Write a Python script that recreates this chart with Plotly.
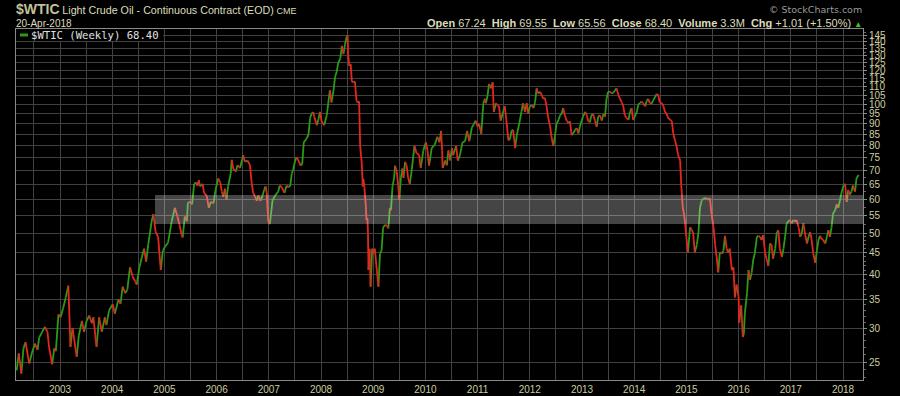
import plotly.graph_objects as go

# ---- data (decimal year, weekly close) ----
years = [
2002.17,2002.21,2002.26,2002.30,2002.34,2002.41,2002.46,2002.52,2002.57,2002.60,2002.66,2002.71,2002.76,2002.79,2002.85,2002.89,2002.92,2002.97,
2003.01,2003.06,2003.11,2003.16,2003.20,2003.24,2003.27,2003.32,2003.36,2003.42,2003.46,2003.51,2003.56,2003.61,2003.64,2003.70,2003.75,2003.80,2003.86,2003.89,2003.94,
2004.01,2004.05,2004.12,2004.16,2004.20,2004.25,2004.29,2004.34,2004.39,2004.44,2004.47,2004.52,2004.57,2004.61,2004.65,2004.69,2004.76,2004.79,2004.83,2004.88,2004.93,2004.97,
2005.01,2005.07,2005.14,2005.20,2005.25,2005.29,2005.33,2005.35,2005.39,2005.43,2005.45,2005.49,2005.53,2005.57,2005.61,2005.63,2005.66,2005.68,2005.73,2005.76,2005.81,2005.85,2005.89,2005.94,2005.98,
2006.03,2006.07,2006.10,2006.13,2006.16,2006.19,2006.22,2006.27,2006.29,2006.32,2006.37,2006.40,2006.45,2006.51,2006.54,2006.59,2006.64,2006.67,2006.70,2006.74,2006.77,2006.80,2006.84,2006.88,2006.91,2006.94,2006.96,2006.99,
2007.02,2007.07,2007.12,2007.18,2007.21,2007.25,2007.30,2007.34,2007.37,2007.41,2007.44,2007.47,2007.50,2007.53,2007.58,2007.61,2007.64,2007.67,2007.72,2007.76,2007.79,2007.82,2007.85,2007.87,2007.92,2007.95,2007.98,
2008.01,2008.06,2008.11,2008.14,2008.17,2008.20,2008.24,2008.27,2008.30,2008.33,2008.37,2008.40,2008.43,2008.46,2008.49,2008.51,2008.52,2008.54,2008.57,2008.59,2008.62,2008.65,2008.68,2008.70,2008.73,2008.75,2008.78,2008.80,2008.81,2008.83,2008.86,2008.87,2008.89,2008.90,2008.91,2008.93,2008.95,2008.98,
2009.00,2009.03,2009.07,2009.10,2009.13,2009.16,2009.19,2009.23,2009.27,2009.29,2009.32,2009.34,2009.37,2009.40,2009.42,2009.45,2009.48,2009.50,2009.53,2009.56,2009.58,2009.61,2009.64,2009.67,2009.70,2009.74,2009.79,2009.83,2009.88,2009.91,2009.96,
2010.01,2010.04,2010.07,2010.12,2010.18,2010.23,2010.27,2010.30,2010.32,2010.33,2010.38,2010.41,2010.44,2010.47,2010.51,2010.53,2010.59,2010.62,2010.66,2010.71,2010.76,2010.80,2010.84,2010.89,2010.93,2010.96,
2011.00,2011.03,2011.07,2011.11,2011.14,2011.16,2011.19,2011.22,2011.26,2011.29,2011.31,2011.35,2011.38,2011.41,2011.44,2011.48,2011.52,2011.55,2011.59,2011.62,2011.65,2011.68,2011.72,2011.75,2011.80,2011.84,2011.87,2011.91,2011.94,2011.97,
2012.00,2012.04,2012.07,2012.10,2012.13,2012.16,2012.20,2012.23,2012.26,2012.29,2012.32,2012.35,2012.39,2012.42,2012.45,2012.48,2012.51,2012.55,2012.58,2012.61,2012.64,2012.67,2012.71,2012.74,2012.77,2012.80,2012.83,2012.87,2012.90,2012.93,2012.96,2012.99,
2013.02,2013.06,2013.09,2013.12,2013.15,2013.18,2013.21,2013.25,2013.28,2013.31,2013.34,2013.38,2013.41,2013.44,2013.47,2013.50,2013.54,2013.57,2013.60,2013.63,2013.66,2013.70,2013.73,2013.76,2013.79,2013.82,2013.85,2013.89,2013.92,2013.95,2013.98,
2014.01,2014.05,2014.08,2014.11,2014.14,2014.17,2014.21,2014.24,2014.27,2014.30,2014.33,2014.36,2014.40,2014.43,2014.46,2014.49,2014.53,2014.56,2014.59,2014.62,2014.65,2014.69,2014.72,2014.75,2014.78,2014.81,2014.84,2014.88,2014.90,2014.93,2014.97,
2015.00,2015.03,2015.07,2015.10,2015.13,2015.16,2015.20,2015.23,2015.26,2015.29,2015.32,2015.39,2015.42,2015.45,2015.48,2015.52,2015.55,2015.58,2015.61,2015.64,2015.68,2015.71,2015.74,2015.77,2015.80,2015.83,2015.87,2015.90,2015.93,2015.96,
2016.00,2016.01,2016.05,2016.08,2016.10,2016.12,2016.16,2016.19,2016.22,2016.25,2016.28,2016.31,2016.35,2016.38,2016.41,2016.44,2016.47,2016.51,2016.54,2016.57,2016.60,2016.63,2016.66,2016.70,2016.73,2016.76,2016.79,2016.83,2016.86,2016.89,2016.92,2016.95,2016.98,
2017.02,2017.05,2017.08,2017.11,2017.15,2017.18,2017.21,2017.24,2017.27,2017.31,2017.34,2017.37,2017.40,2017.43,2017.47,2017.50,2017.53,2017.56,2017.59,2017.62,2017.66,2017.69,2017.72,2017.75,2017.78,2017.81,2017.85,2017.88,2017.91,2017.94,2017.97,
2018.01,2018.04,2018.07,2018.10,2018.13,2018.16,2018.19,2018.23,2018.26,2018.30]

closes = [
23.9,26.2,23.5,26.9,27.8,24.8,26.2,27.6,26.7,28.5,29.4,30.2,29.4,27.1,24.7,26.9,26.5,32.3,
31.8,33.4,35.4,37.7,27.1,30.0,28.3,25.7,28.8,31.2,29.4,31.2,32.1,30.8,31.8,27.1,31.8,29.4,31.8,30.5,33.0,
34.1,32.4,35.0,34.2,37.5,36.2,36.9,41.6,39.6,38.6,37.9,41.6,44.0,46.0,42.9,47.0,53.7,55.4,50.4,49.0,41.0,45.5,
46.5,47.5,53.3,57.3,54.7,52.3,49.6,48.9,54.7,53.3,58.9,59.2,58.4,65.2,65.7,64.5,66.5,64.3,65.2,62.1,61.2,57.3,59.2,58.7,63.1,
67.1,65.7,62.5,60.8,63.5,59.9,64.3,68.9,74.2,70.6,69.7,72.1,71.0,76.1,73.4,73.9,72.1,65.7,62.1,60.8,59.5,61.2,59.5,61.2,63.1,64.3,62.1,53.3,
52.5,59.5,61.2,62.5,64.6,64.0,62.1,64.6,64.0,64.5,68.9,70.6,73.4,75.3,73.4,71.9,72.5,81.6,83.0,84.9,92.8,95.1,95.9,93.6,89.4,92.1,96.0,
91.3,89.4,94.3,100.6,108.0,101.0,108.0,116.0,119.0,125.0,128.0,137.0,131.0,138.0,143.5,145.0,131.0,123.0,124.0,113.0,112.6,113.0,102.0,101.0,101.5,80.0,73.0,64.3,67.0,64.3,57.6,53.7,54.1,50.0,41.0,46.0,37.5,46.0,
44.8,46.0,41.0,37.5,44.8,45.5,51.6,52.3,52.0,51.3,57.3,56.6,64.3,67.3,71.9,69.7,64.6,59.9,67.3,70.8,67.3,73.4,71.9,67.3,65.2,70.6,80.0,76.9,76.2,71.0,78.0,
81.6,78.0,71.9,79.0,80.5,84.0,81.5,86.7,78.0,71.0,73.9,72.0,78.0,74.0,79.0,76.0,80.0,73.9,76.0,81.5,82.0,86.7,82.0,88.3,89.9,91.6,
88.8,89.9,85.3,100.6,103.0,100.6,105.0,111.6,109.0,112.6,96.0,100.6,99.5,99.0,91.6,95.0,99.0,92.0,82.4,83.0,86.7,87.2,79.0,84.7,90.5,96.0,100.6,96.0,100.6,95.0,
99.0,99.5,98.0,101.0,109.0,106.0,107.0,105.0,103.0,103.5,99.0,93.5,88.6,83.4,79.9,84.0,89.9,92.0,94.3,95.0,98.0,94.3,91.4,90.5,91.2,84.7,85.5,87.3,88.0,85.5,88.6,91.4,
93.6,96.0,94.3,91.4,90.8,94.3,95.0,91.6,88.6,93.6,94.3,91.6,95.0,93.6,103.0,107.0,107.0,106.0,106.5,107.7,109.0,105.0,103.0,101.0,99.0,94.3,93.0,92.0,96.0,98.0,92.0,
93.6,96.0,100.0,100.6,101.5,100.6,99.0,102.0,103.0,100.6,100.2,102.0,104.0,105.8,105.0,101.0,100.6,99.0,96.0,95.0,93.0,92.0,91.4,85.3,82.4,80.0,76.2,74.0,65.0,57.6,53.7,
48.9,45.1,51.6,51.0,50.0,45.1,47.0,50.0,57.3,59.5,60.2,60.4,59.8,60.4,55.6,51.6,47.0,44.0,40.5,45.1,44.8,45.5,49.3,46.0,45.0,46.0,41.0,41.6,35.4,37.9,
35.5,30.9,33.9,28.6,29.1,32.5,36.1,41.0,38.9,40.5,43.3,44.8,49.0,49.3,49.0,48.2,49.5,44.8,43.3,41.9,47.3,47.0,43.6,46.0,50.0,50.8,46.0,44.0,46.0,49.0,52.7,53.2,53.7,
52.7,53.7,53.2,53.7,51.6,49.0,50.0,52.7,50.0,47.3,49.0,50.3,48.2,44.8,42.6,45.5,48.2,49.3,48.5,48.2,47.3,49.0,50.8,49.0,51.6,55.6,56.6,58.4,57.3,59.5,62.1,
64.6,65.2,59.2,63.1,61.5,62.5,64.6,62.5,67.3,68.4]

# shaded resistance/support zone
band_start = 2004.82
band_end = 2018.383
band_low = 52.5
band_high = 61.4

# axis ticks
year_ticks = list(range(2003, 2019))
price_ticks = list(range(25, 150, 5))

# ---- figure ----
GREEN = "#2c9a16"
RED = "#e5261e"
TXT = "#cdcda0"

gx, gy, rx, ry = [], [], [], []
for i in range(1, len(years)):
    seg_x = [years[i - 1], years[i], None]
    seg_y = [closes[i - 1], closes[i], None]
    if closes[i] >= closes[i - 1]:
        gx += seg_x; gy += seg_y
    else:
        rx += seg_x; ry += seg_y

fig = go.Figure()
fig.add_trace(go.Scatter(x=gx, y=gy, mode="lines", line=dict(color=GREEN, width=1.8),
                         hoverinfo="skip", showlegend=False))
fig.add_trace(go.Scatter(x=rx, y=ry, mode="lines", line=dict(color=RED, width=1.8),
                         hoverinfo="skip", showlegend=False))
fig.add_trace(go.Scatter(x=[band_start, band_end, band_end, band_start, band_start],
                         y=[band_low, band_low, band_high, band_high, band_low],
                         mode="lines", fill="toself", fillcolor="rgba(255,255,255,0.27)",
                         line=dict(width=0), hoverinfo="skip", showlegend=False))

# x grid: every half year, labels on years
xt = []
xl = []
for y in range(2002, 2019):
    for h in (0.0, 0.5):
        v = y + h
        if 2002.157 <= v <= 2018.383:
            xt.append(v)
            xl.append(str(y) if (h == 0.0 and y in year_ticks) else "")

minor_y = [v for v in range(23, 50)] + [v * 2.5 for v in range(20, 60)]

fig.update_layout(
    width=900, height=396,
    margin=dict(l=16, r=37, t=29, b=16, autoexpand=False),
    paper_bgcolor="#000000", plot_bgcolor="#000000",
    font=dict(family="Liberation Sans, Arial, sans-serif", color=TXT, size=10),
    showlegend=False,
    xaxis=dict(range=[2002.157, 2018.383], tickvals=xt, ticktext=xl, automargin=False,
               showgrid=True, gridcolor="#424242", gridwidth=1,
               zeroline=False, showline=True, mirror=True, linecolor="#8a8a8a", linewidth=1,
               ticks="", tickfont=dict(size=10, color=TXT)),
    yaxis=dict(type="log", range=[1.3559, 2.1760], side="right", automargin=False,
               tickvals=price_ticks, ticktext=[str(v) for v in price_ticks],
               showgrid=True, gridcolor="#424242", gridwidth=1,
               zeroline=False, showline=True, mirror=True, linecolor="#8a8a8a", linewidth=1,
               ticks="outside", ticklen=3, tickcolor="#8a8a8a",
               minor=dict(tickvals=minor_y, ticks="outside", ticklen=2, tickcolor="#6a6a6a", showgrid=False),
               tickfont=dict(size=10, color=TXT)),
)

W, H = 847.0, 351.0
def px(x):
    return (x - 16) / W
def py(y):
    return (380 - y) / H

fig.add_annotation(xref="paper", yref="paper", x=px(15), y=py(9), xanchor="left", yanchor="middle",
                   showarrow=False, borderpad=0,
                   text="<b><span style='font-size:14px;color:#c2c29a'>$WTIC</span></b> "
                        "<span style='font-size:10.7px;color:#dcdcbc'>Light Crude Oil - Continuous Contract (EOD)</span> "
                        "<span style='font-size:9px;color:#dcdcbc'>CME</span>")
fig.add_annotation(xref="paper", yref="paper", x=px(15), y=py(23), xanchor="left", yanchor="middle",
                   showarrow=False, borderpad=0, font=dict(size=10, color="#dcdcbc"), text="20-Apr-2018")
fig.add_annotation(xref="paper", yref="paper", x=px(863), y=py(9), xanchor="right", yanchor="middle",
                   showarrow=False, borderpad=0, font=dict(size=9.5, color="#9a9a9a", family="DejaVu Sans, sans-serif"),
                   text="\u00a9 StockCharts.com")
sp = "\u00a0"
info = ("<b>Open</b> 67.24" + sp + sp + "<b>High</b> 69.55" + sp + sp + "<b>Low</b> 65.56" + sp + sp +
        "<b>Close</b> 68.40" + sp + sp + "<b>Volume</b> 3.3M" + sp + sp + "<b>Chg</b> +1.01 (+1.50%) "
        "<span style='color:#33cc33;font-size:8px'>\u25b2</span>")
fig.add_annotation(xref="paper", yref="paper", x=px(863), y=py(23), xanchor="right", yanchor="middle",
                   showarrow=False, borderpad=0, font=dict(size=11, color="#dcdcbc"), text=info)

# legend box
fig.add_shape(type="rect", xref="paper", yref="paper", x0=px(16), x1=px(163), y0=py(41), y1=py(29),
              fillcolor="#000000", line=dict(width=0), layer="above")
fig.add_shape(type="line", xref="paper", yref="paper", x0=px(20), x1=px(28), y0=py(35), y1=py(35),
              line=dict(color=GREEN, width=3), layer="above")
fig.add_annotation(xref="paper", yref="paper", x=px(30), y=py(35), xanchor="left", yanchor="middle",
                   showarrow=False, borderpad=0,
                   font=dict(size=10.6, color="#e2e2e2", family="DejaVu Sans Mono, monospace"),
                   text="$WTIC (Weekly) 68.40")

fig.write_html("out.html", config={"displayModeBar": False},
               post_script="document.body.style.margin='0px';document.body.style.overflow='hidden';")
